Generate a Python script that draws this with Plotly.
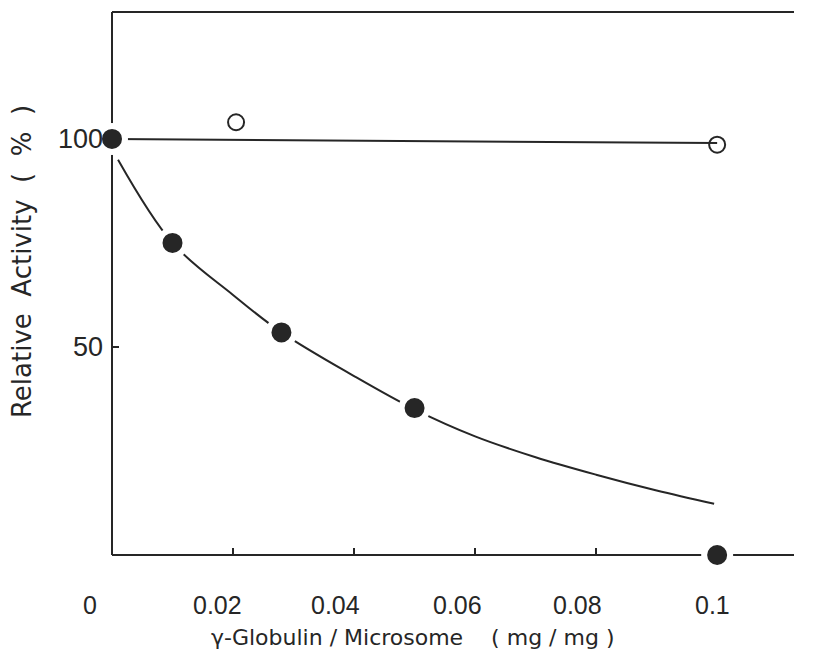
import plotly.graph_objects as go

# ---- data ----
x_filled = [0.0, 0.010, 0.028, 0.050, 0.100]
y_filled = [100.0, 75.0, 53.5, 35.3, 0.0]

x_open = [0.0205, 0.100]
y_open = [104.0, 98.6]

x_ctrl_line = [0.0, 0.100]
y_ctrl_line = [100.0, 99.0]

x_curve = [0.001, 0.010, 0.020, 0.028, 0.040, 0.050, 0.060, 0.070, 0.080, 0.090, 0.0995]
y_curve = [95.0, 75.0, 62.5, 53.5, 43.0, 35.0, 28.5, 23.5, 19.3, 15.5, 12.3]

x_ticks = [0.0, 0.02, 0.04, 0.06, 0.08, 0.1]
x_tick_labels = ["0", "0.02", "0.04", "0.06", "0.08", "0.1"]
y_ticks = [50, 100]
y_tick_labels = ["50", "100"]

x_title = "γ-Globulin / Microsome\u00a0\u00a0\u00a0\u00a0( mg / mg )"
y_title = "Relative\u00a0 Activity\u00a0 (\u00a0 %\u00a0 )"

INK = "#262626"
FONT = "Liberation Sans"
TFONT = "DejaVu Sans"

fig = go.Figure()

fig.add_trace(go.Scatter(x=x_ctrl_line, y=y_ctrl_line, mode="lines",
                         line=dict(color=INK, width=2), cliponaxis=False,
                         hoverinfo="skip", showlegend=False))
fig.add_trace(go.Scatter(x=x_curve, y=y_curve, mode="lines",
                         line=dict(color=INK, width=2, shape="spline", smoothing=1.0),
                         cliponaxis=False, hoverinfo="skip", showlegend=False))
fig.add_trace(go.Scatter(x=x_open, y=y_open, mode="markers", cliponaxis=False,
                         marker=dict(symbol="circle-open", size=16, color=INK,
                                     line=dict(width=2, color=INK)),
                         showlegend=False))
fig.add_trace(go.Scatter(x=x_filled, y=y_filled, mode="markers", cliponaxis=False,
                         marker=dict(symbol="circle", size=26, color=INK,
                                     line=dict(width=6, color="white")),
                         showlegend=False))

axis_common = dict(showgrid=False, zeroline=False, showline=False, mirror=False,
                   ticks="inside", tickcolor=INK, tickwidth=2, ticklen=7,
                   showticklabels=False, layer="below traces")

fig.update_xaxes(range=[0, 0.1127], tickvals=x_ticks[1:5], **axis_common)
fig.update_yaxes(range=[0, 130.5], tickvals=[50], **axis_common)

# frame lines: left, bottom, top (open on the right)
frame = dict(color=INK, width=2)
fig.add_shape(type="line", xref="paper", yref="paper", x0=0, x1=0, y0=0, y1=1,
              line=frame, layer="below")
fig.add_shape(type="line", xref="paper", yref="paper", x0=0, x1=1, y0=0, y1=0,
              line=frame, layer="below")
fig.add_shape(type="line", xref="paper", yref="paper", x0=0, x1=1, y0=1, y1=1,
              line=frame, layer="below")

annotations = []
x_shifts = [-22, -16, -19, -18, -19, -5]
for xv, lab, sh in zip(x_ticks, x_tick_labels, x_shifts):
    annotations.append(dict(x=xv, y=0, xref="x", yref="paper", text=lab,
                            showarrow=False, xanchor="center", yanchor="middle",
                            xshift=sh, yshift=-50,
                            font=dict(family=FONT, size=25, color=INK)))
for yv, lab in zip(y_ticks, y_tick_labels):
    annotations.append(dict(x=0, y=yv, xref="paper", yref="y", text=lab,
                            showarrow=False, xanchor="right", yanchor="middle",
                            xshift=-7, yshift=0,
                            font=dict(family=FONT, size=27, color=INK)))
annotations.append(dict(x=0.0496, y=0, xref="x", yref="paper", text=x_title,
                        showarrow=False, xanchor="center", yanchor="middle",
                        yshift=-82, font=dict(family=TFONT, size=22, color=INK)))
annotations.append(dict(x=0, y=70.4, xref="paper", yref="y", text=y_title,
                        showarrow=False, xanchor="center", yanchor="middle",
                        textangle=-90, xshift=-90,
                        font=dict(family=TFONT, size=26, color=INK)))

fig.update_layout(width=814, height=662,
                  margin=dict(l=112, r=20, t=12, b=107),
                  plot_bgcolor="white", paper_bgcolor="white",
                  annotations=annotations, showlegend=False)

fig.write_html("out.html", config={"displayModeBar": False})
